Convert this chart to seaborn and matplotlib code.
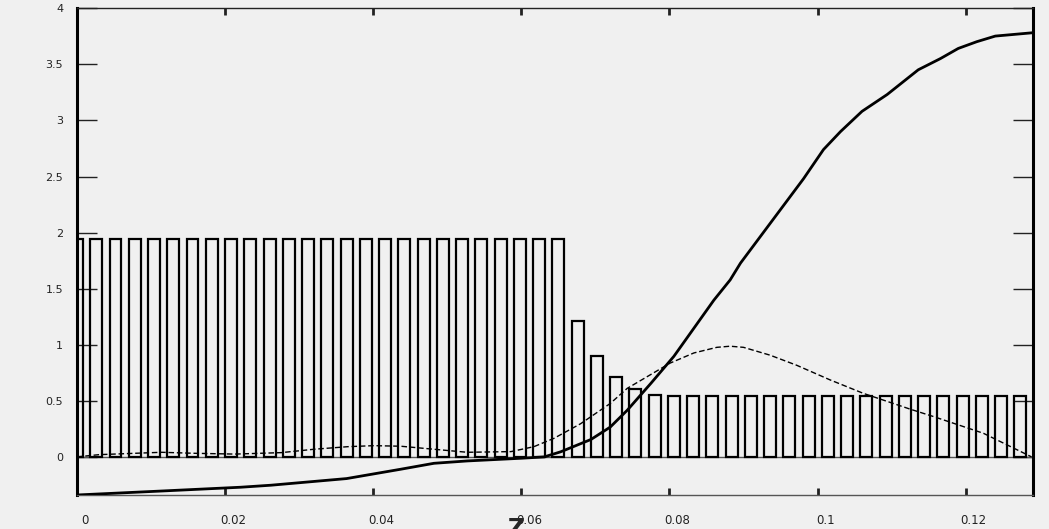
import numpy as np
import pandas as pd
import seaborn as sns
import matplotlib
matplotlib.use("Agg")
import matplotlib.pyplot as plt
from matplotlib.transforms import ScaledTranslation

# Bar positions along Z and bar heights
bar_z = [0.0, 0.0026, 0.0052, 0.0078, 0.0104, 0.013, 0.0156, 0.0182, 0.0208, 0.0234,
         0.026, 0.0286, 0.0312, 0.0338, 0.0364, 0.039, 0.0416, 0.0442, 0.0468, 0.0494,
         0.052, 0.0546, 0.0572, 0.0598, 0.0624, 0.065, 0.0676, 0.0702, 0.0728, 0.0754,
         0.078, 0.0806, 0.0832, 0.0858, 0.0884, 0.091, 0.0936, 0.0962, 0.0988, 0.1014,
         0.104, 0.1066, 0.1092, 0.1118, 0.1144, 0.117, 0.1196, 0.1222, 0.1248, 0.1274]
bar_h = [1.94] * 26 + [1.21, 0.90, 0.72, 0.61, 0.555] + [0.545] * 19

# Solid curve
solid_z = [0.0, 0.011, 0.0221, 0.0262, 0.0364, 0.0437, 0.0482, 0.0527, 0.0600, 0.0631,
           0.0653, 0.0694, 0.0720, 0.0743, 0.0775, 0.0806, 0.0833, 0.0860, 0.0882, 0.0896,
           0.0981, 0.1008, 0.1031, 0.1060, 0.1094, 0.1136, 0.1166, 0.1190, 0.1215, 0.1240,
           0.1291]
solid_y = [-0.334, -0.30, -0.265, -0.247, -0.188, -0.105, -0.052, -0.031, -0.007, 0.005,
           0.05, 0.16, 0.27, 0.42, 0.66, 0.90, 1.15, 1.40, 1.58, 1.73,
           2.48, 2.74, 2.90, 3.08, 3.23, 3.45, 3.55, 3.64, 3.70, 3.75,
           3.78]

# Dashed curve
dash_z = [0.0, 0.003, 0.0114, 0.0159, 0.0213, 0.0276, 0.032, 0.0366, 0.0401, 0.0437,
          0.0482, 0.0527, 0.0586, 0.0617, 0.0644, 0.068, 0.0720, 0.0743, 0.0765, 0.0801,
          0.0833, 0.0864, 0.0882, 0.0900, 0.0936, 0.0972, 0.1017, 0.1062, 0.1125, 0.1157,
          0.1224, 0.1289]
dash_y = [0.005, 0.025, 0.046, 0.037, 0.030, 0.043, 0.073, 0.096, 0.105, 0.100,
          0.073, 0.046, 0.052, 0.096, 0.17, 0.30, 0.48, 0.615, 0.70, 0.84,
          0.93, 0.98, 0.99, 0.98, 0.91, 0.82, 0.69, 0.57, 0.43, 0.363,
          0.215, 0.005]

x_ticks = [0, 0.02, 0.04, 0.06, 0.08, 0.1, 0.12]
x_tick_labels = ["0", "0.02", "0.04", "0.06", "0.08", "0.1", "0.12"]
y_ticks = [0, 0.5, 1, 1.5, 2, 2.5, 3, 3.5, 4]
y_tick_labels = ["0", "0.5", "1", "1.5", "2", "2.5", "3", "3.5", "4"]

sns.set_theme(style="ticks")
bg = "#f0f0f0"
plt.rcParams["font.family"] = ["DejaVu Sans"]

fig = plt.figure(figsize=(10.49, 5.29), dpi=100, facecolor=bg)
ax = fig.add_axes([0.0734, 0.0643, 0.9114, 0.9206])
ax.set_facecolor(bg)

bars = pd.DataFrame({"z": bar_z, "h": bar_h})
sns.barplot(data=bars, x="z", y="h", native_scale=True, fill=False, width=0.62,
            color="black", linewidth=1.6, errorbar=None, ax=ax, zorder=2)

ax.axhline(0, color="#555555", lw=1.0, zorder=1)

sns.lineplot(x=solid_z, y=solid_y, color="black", lw=2.0, sort=False, ax=ax, zorder=3)
sns.lineplot(x=dash_z, y=dash_y, color="black", lw=1.0, sort=False, ax=ax,
             linestyle=(0, (4, 2)), zorder=3)

ax.set_xlim(0, 0.1291)
ax.set_ylim(-0.334, 4)

ax.set_xticks(x_ticks)
ax.set_xticklabels(x_tick_labels)
ax.set_yticks(y_ticks)
ax.set_yticklabels(y_tick_labels)

ax.tick_params(axis="y", direction="in", length=14.4, width=1.0, color="#222222",
               left=True, right=True, labelsize=8, pad=10, labelcolor="#222222")
ax.tick_params(axis="x", direction="in", length=5, width=2.0, color="#222222",
               bottom=True, top=True, labelsize=8.5, pad=14, labelcolor="#222222")

shift = ScaledTranslation(8 / 100, 0, fig.dpi_scale_trans)
for lab in ax.get_xticklabels():
    lab.set_transform(lab.get_transform() + shift)

for side in ["left", "right"]:
    ax.spines[side].set_linewidth(2.2)
    ax.spines[side].set_color("black")
ax.spines["top"].set_linewidth(1.0)
ax.spines["top"].set_color("#222222")
ax.spines["bottom"].set_linewidth(1.0)
ax.spines["bottom"].set_color("#555555")
for side in ax.spines:
    ax.spines[side].set_visible(True)

ax.set_ylabel("")
ax.set_xlabel("Z", fontsize=17, fontweight="bold")
ax.xaxis.set_label_coords(0.46, -0.045)
ax.xaxis.label.set_verticalalignment("top")

fig.savefig("out.png", dpi=100, facecolor=bg)
